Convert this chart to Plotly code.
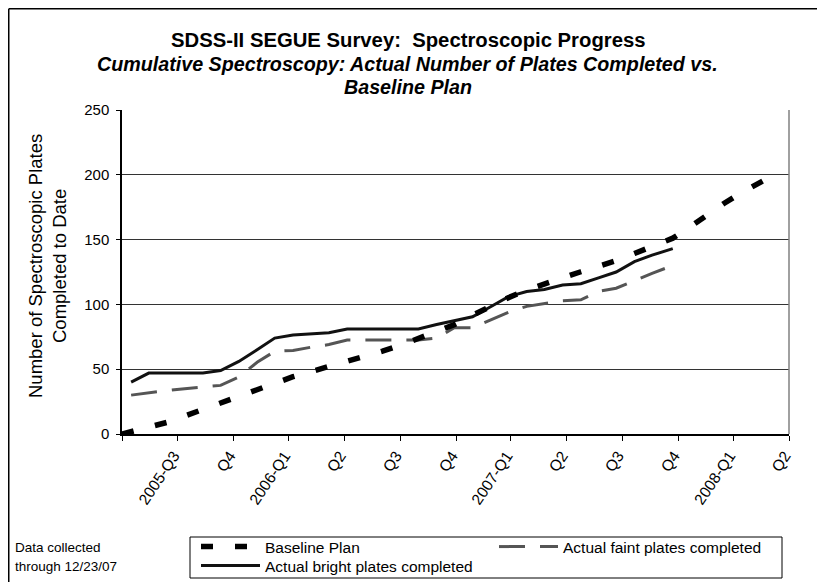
import plotly.graph_objects as go

# ---------------- data ----------------
run_dates = [
    "2005-07-16", "2005-08-14", "2005-09-13", "2005-10-12", "2005-11-11", "2005-12-10",
    "2006-01-09", "2006-02-08", "2006-03-09", "2006-04-08", "2006-05-08", "2006-06-06",
    "2006-07-06", "2006-08-04", "2006-09-02", "2006-10-02", "2006-10-31", "2006-11-30",
    "2006-12-29", "2007-01-28", "2007-02-26", "2007-03-28", "2007-04-27", "2007-05-26",
    "2007-06-25", "2007-07-25", "2007-08-23", "2007-09-21", "2007-10-21", "2007-11-19",
    "2007-12-23",
]
plan_dates = ["2005-07-01"] + run_dates + [
    "2008-01-17", "2008-02-16", "2008-03-16", "2008-04-15", "2008-05-15", "2008-06-13",
]

baseline_plan = [
    0, 1.8, 4.9, 9.0, 13.9, 19.2, 24.3, 29.3, 34.1, 39.1, 44.2, 48.1, 51.9, 56.0,
    60.0, 63.9, 68.5, 73.4, 78.9, 84.4, 91.6, 98.5, 105.2, 111.1, 116.0, 120.7,
    125.2, 129.5, 133.7, 139.3, 144.7, 151.1, 158.6, 169.0, 177.9, 186.6, 194.3, 201.6,
]
faint_completed = [
    30, 32, 33.5, 35, 36, 37.5, 44, 55.3, 63.8, 64.5, 67, 69, 72.5, 72.5, 72.5,
    72.5, 72.5, 74, 82, 82, 88, 94, 98.5, 100.5, 102.8, 103.5, 110, 112.5, 118.5,
    124, 130,
]
bright_completed = [
    40, 47, 47, 47, 47, 49, 56, 65, 74, 76.4, 77.3, 78.2, 81, 81, 81, 81, 81,
    84.5, 87.5, 90.5, 98, 106, 110, 111.5, 115, 116, 120.5, 125, 133, 138, 143,
]

quarter_ticks = [
    "2005-07-01", "2005-10-01", "2006-01-01", "2006-04-01", "2006-07-01",
    "2006-10-01", "2007-01-01", "2007-04-01", "2007-07-01", "2007-10-01",
    "2008-01-01", "2008-04-01", "2008-07-01",
]
quarter_labels = [
    "", "2005-Q3", "Q4", "2006-Q1", "Q2", "Q3", "Q4", "2007-Q1", "Q2", "Q3",
    "Q4", "2008-Q1", "Q2",
]

FONT = "Liberation Sans, Arial, sans-serif"

fig = go.Figure()
fig.add_trace(go.Scatter(
    x=run_dates, y=faint_completed, mode="lines",
    name="Actual faint plates completed", legendrank=2, legend="legend",
    line=dict(color="#555555", width=3, dash="26px,15px"),
))
fig.add_trace(go.Scatter(
    x=run_dates, y=bright_completed, mode="lines",
    name="Actual bright plates completed", legend="legend2",
    line=dict(color="#111111", width=3),
))
fig.add_trace(go.Scatter(
    x=plan_dates, y=baseline_plan, mode="lines",
    name="Baseline Plan", legendrank=1, legend="legend",
    line=dict(color="#000000", width=5.5, dash="12px,22px"),
))

# geometry: page body margin is removed, so figure pixels == page pixels
L, R, T, B = 122, 28, 110, 148
W, H = 817, 582
PW, PH = W - L - R, H - T - B


def px(xp):
    """page x pixel -> paper coordinate"""
    return (xp - L) / PW


def py(yp):
    """page y pixel -> paper coordinate"""
    return (H - B - yp) / PH


annotations = [
    dict(text="<b>SDSS-II SEGUE Survey:\u00a0 Spectroscopic Progress</b>",
         x=px(408.5), y=py(40), font=dict(size=20.3)),
    dict(text="<b><i>Cumulative Spectroscopy: Actual Number of Plates Completed vs.</i></b>",
         x=px(407.5), y=py(64), font=dict(size=19.7)),
    dict(text="<b><i>Baseline Plan</i></b>",
         x=px(407.5), y=py(87), font=dict(size=19.7)),
    dict(text="Number of Spectroscopic Plates<br>Completed to Date",
         x=px(47), y=py(266), textangle=-90, font=dict(size=18.5)),
    dict(text="Data collected", x=px(13), y=py(547), xanchor="left",
         font=dict(size=13.5)),
    dict(text="through 12/23/07", x=px(13), y=py(566), xanchor="left",
         font=dict(size=13.5)),
]
for a in annotations:
    a.setdefault("xanchor", "center")
    a.update(xref="paper", yref="paper", yanchor="middle", showarrow=False)
    a["font"] = dict(family=FONT, color="black", **a["font"])

legend_common = dict(
    orientation="h", xanchor="left", yanchor="middle",
    borderwidth=0, bgcolor="rgba(0,0,0,0)",
    font=dict(size=15.5, family=FONT, color="black"), itemwidth=59,
)

fig.update_layout(
    width=W, height=H,
    margin=dict(l=L, r=R, t=T, b=B, pad=0, autoexpand=False),
    paper_bgcolor="white", plot_bgcolor="white",
    font=dict(family=FONT, color="black", size=15),
    annotations=annotations,
    showlegend=True,
    legend=dict(x=px(196), y=py(547), entrywidth=224, **legend_common),
    legend2=dict(x=px(196), y=py(566), **legend_common),
    shapes=[
        # plot area right border
        dict(type="line", xref="paper", yref="paper", x0=1, x1=1, y0=0, y1=1,
             line=dict(color="#808080", width=1.5)),
        # legend frame
        dict(type="rect", xref="paper", yref="paper",
             x0=px(190), x1=px(782), y0=py(578), y1=py(537),
             line=dict(color="black", width=1), layer="below"),
        # chart-area border (left and top edges)
        dict(type="line", xref="paper", yref="paper",
             x0=px(8.75), x1=px(8.75), y0=py(H + 20), y1=py(8.75),
             line=dict(color="black", width=1.5)),
        dict(type="line", xref="paper", yref="paper",
             x0=px(8.75), x1=px(W + 20), y0=py(8.75), y1=py(8.75),
             line=dict(color="black", width=1.5)),
    ],
)
fig.update_xaxes(
    type="date", range=["2005-07-01", "2008-07-01"],
    tickmode="array", tickvals=quarter_ticks, ticktext=quarter_labels,
    tickangle=-56, tickfont=dict(size=15.5), ticklabelstandoff=0, ticklabelshift=-4,
    ticks="outside", ticklen=5, tickcolor="black", tickwidth=1,
    showline=True, linecolor="black", linewidth=1.5, showgrid=False,
    zeroline=False,
)
fig.update_yaxes(
    range=[0, 250], dtick=50, tick0=0,
    ticks="outside", ticklen=4, tickcolor="black", tickwidth=1,
    tickfont=dict(size=15), ticklabelstandoff=4,
    showline=True, linecolor="black", linewidth=1.5,
    showgrid=True, gridcolor="#333333", gridwidth=1, zeroline=False,
)

fig.write_html(
    "out.html",
    config={"displayModeBar": False},
    post_script="document.body.style.margin='0';document.body.style.overflow='hidden';",
)
